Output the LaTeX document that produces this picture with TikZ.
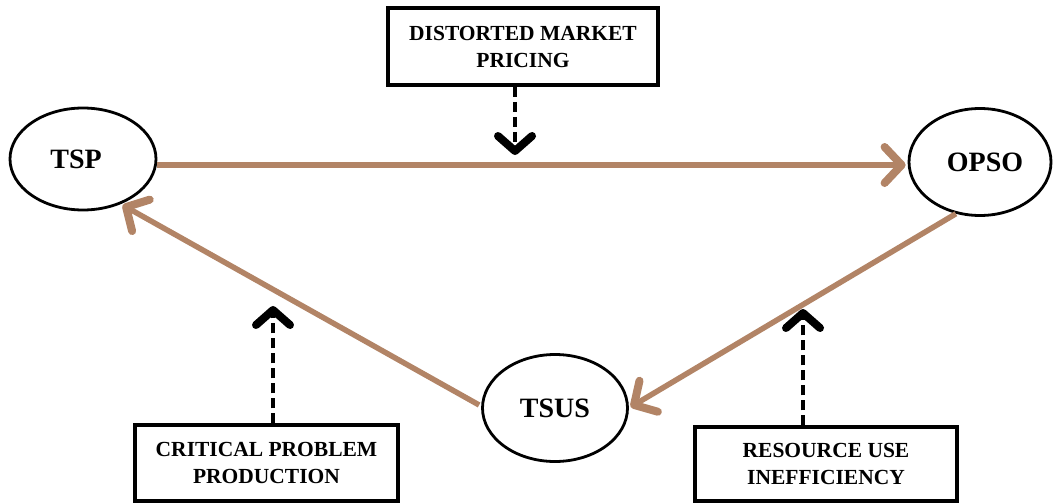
\documentclass[tikz,border=0pt]{standalone}
\usepackage{fontspec}
\setmainfont{Liberation Serif}
\usetikzlibrary{arrows.meta,shapes.geometric}
\definecolor{brownline}{RGB}{178,132,102}
\tikzset{
  ellnode/.style={draw=black, line width=2.8pt, ellipse, inner sep=0pt, font=\bfseries\fontsize{28}{28}\selectfont},
  factor/.style={draw=black, line width=3.5pt, rectangle, inner sep=0pt, align=center, font=\bfseries\fontsize{21.5}{27}\selectfont},
  flow/.style={draw=brownline, line width=5.5pt, -{Straight Barb[length=17pt, width=36pt, line width=8pt, round]}, shorten >=2pt},
  influence/.style={draw=black, line width=4.5pt, dash pattern=on 10pt off 5pt, -{Straight Barb[length=15pt, width=34pt, line width=8pt, round]}}
}
\begin{document}
\begin{tikzpicture}[x=1pt,y=-1pt]
\useasboundingbox (0,0) rectangle (1054,503);
\node[ellnode, minimum width=146pt, minimum height=102pt] (tsp) at (83,159) {};
\node[font=\bfseries\fontsize{28}{28}\selectfont, inner sep=0pt] (tsplabel) at (tsp.center) [xshift=-7pt] {TSP};
\node[ellnode, minimum width=142pt, minimum height=107pt] (opso) at (980,162) {};
\node[font=\bfseries\fontsize{28}{28}\selectfont, inner sep=0pt] (opsolabel) at (opso.center) [xshift=5pt] {OPSO};
\node[ellnode, minimum width=145pt, minimum height=107pt] (tsus) at (555,408) {TSUS};
\node[factor, minimum width=270pt, minimum height=77pt] (dmp) at (523,46.5) {DISTORTED MARKET\\PRICING};
\node[factor, minimum width=263pt, minimum height=76pt] (cpp) at (266.5,463) {CRITICAL PROBLEM\\PRODUCTION};
\node[factor, minimum width=262pt, minimum height=74pt] (rui) at (826,464) {RESOURCE USE\\INEFFICIENCY};
\coordinate (dmpTip) at (515,155);
\coordinate (cppTip) at (273,306);
\coordinate (ruiTip) at (803,309);
\draw[flow] (tsp.east |- 0,165) -- (opso.west |- 0,165);
\draw[flow] (tsus.west) ++(-2,-3) coordinate (tsusL) (tsusL) -- (tsp.-50);
\draw[flow] (opso.-115) -- (tsus.east);
\draw[influence] (dmp.south -| dmpTip) -- (dmpTip);
\draw[influence] (cpp.north -| cppTip) -- (cppTip);
\draw[influence] (rui.north -| ruiTip) -- (ruiTip);
\end{tikzpicture}
\end{document}
